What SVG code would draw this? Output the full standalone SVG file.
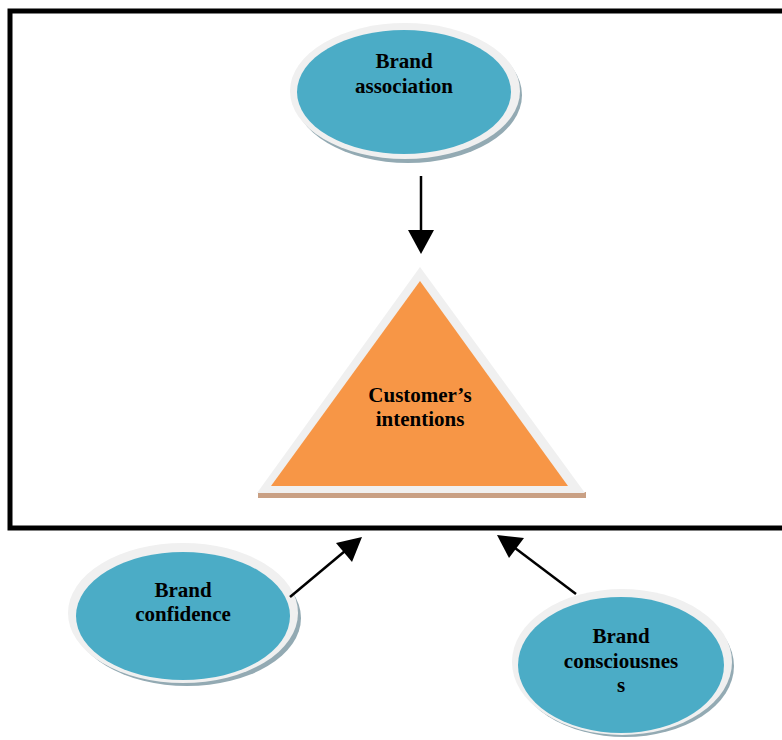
<svg xmlns="http://www.w3.org/2000/svg" width="782" height="740" viewBox="0 0 782 740">
<style>
.ring{fill:#f0f0f0}
.shadow{fill:#93aab3}
.teal{fill:#4bacc6}
.lbl{font-family:"Liberation Serif","Times New Roman",serif;font-weight:bold;font-size:21px;fill:#000;text-anchor:middle}
.conn{stroke:#000;stroke-width:2.5;fill:none}
</style>
<defs>
<marker id="ah" viewBox="0 0 10 10" refX="10" refY="5" markerWidth="10" markerHeight="10" markerUnits="userSpaceOnUse" orient="auto" >
<path d="M0,0 L10,5 L0,10 Z" fill="#000"/>
</marker>
</defs>
<rect width="782" height="740" fill="#fff"/>
<rect x="10" y="11" width="790" height="517" fill="none" stroke="#000" stroke-width="5"/>
<g id="brand-association">
<ellipse class="shadow" cx="408" cy="95" rx="114" ry="68"/>
<ellipse class="ring" cx="405" cy="91" rx="115" ry="68"/>
<ellipse class="teal" cx="404" cy="92" rx="107" ry="62"/>
<text class="lbl" x="404" y="68">Brand</text>
<text class="lbl" x="404" y="93">association</text>
</g>
<g id="customers-intentions">
<rect x="258" y="492" width="328" height="6" fill="#c9a084"/>
<polygon points="420,267 585,493 257,493" fill="#f0f0f0"/>
<polygon points="420,281 568,486 271,486" fill="#f79646"/>
<text class="lbl" x="420" y="402">Customer’s</text>
<text class="lbl" x="420" y="426">intentions</text>
</g>
<g id="brand-confidence">
<ellipse class="shadow" cx="187" cy="618" rx="114" ry="68"/>
<ellipse class="ring" cx="183" cy="613" rx="115" ry="70"/>
<ellipse class="teal" cx="183" cy="616" rx="107" ry="64"/>
<text class="lbl" x="183" y="597">Brand</text>
<text class="lbl" x="183" y="621">confidence</text>
</g>
<g id="brand-consciousness">
<ellipse class="shadow" cx="625" cy="666" rx="109" ry="71"/>
<ellipse class="ring" cx="622" cy="662" rx="110" ry="73"/>
<ellipse class="teal" cx="621" cy="665" rx="103" ry="68"/>
<text class="lbl" x="621" y="643">Brand</text>
<text class="lbl" x="621" y="668">consciousnes</text>
<text class="lbl" x="621" y="692">s</text>
</g>
<g id="connectors">
<line class="conn" x1="421" y1="176" x2="421" y2="232"/>
<polygon points="408,230 434,230 421,254" fill="#000"/>
<line class="conn" x1="290" y1="597" x2="345" y2="551"/>
<polygon points="362,537 352,562 336,543" fill="#000"/>
<line class="conn" x1="576" y1="594" x2="515" y2="548"/>
<polygon points="497,535 524,538 509,558" fill="#000"/>
</g>
</svg>
